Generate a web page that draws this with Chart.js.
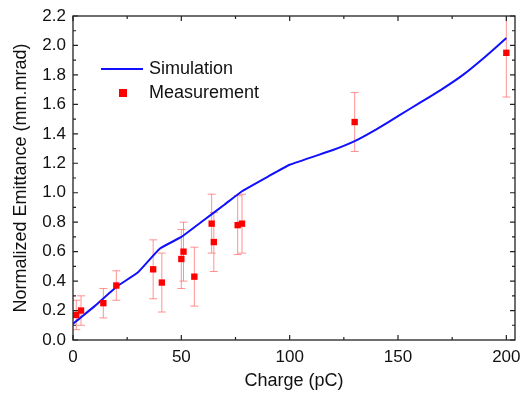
<!DOCTYPE html>
<html lang="en">
<head>
    <meta charset="UTF-8">
    <title>Normalized Emittance vs Charge</title>
    <script src="https://cdn.jsdelivr.net/npm/chart.js"></script>
    <style>
        body { margin: 0; background: #fff; }
        #wrap { width: 521px; height: 394px; }
    </style>
</head>
<body>
    <div id="wrap"><canvas id="emittance-chart" width="521" height="394"></canvas></div>

    <script>
        // simulation curve
        const simCharge = [0, 5, 10, 20, 30, 40, 50, 60, 70, 78, 90, 100, 120, 130, 140, 150, 160, 170, 180, 190, 200];
        const simEmittance = [0.11, 0.17, 0.23, 0.36, 0.46, 0.62, 0.70, 0.81, 0.92, 1.01, 1.11, 1.19, 1.29, 1.35, 1.43, 1.52, 1.61, 1.70, 1.80, 1.92, 2.05];

        // measured points with error
        const measCharge = [1.5, 3.7, 14, 20, 37, 41, 50, 51, 56, 64, 65, 76, 78, 130, 200];
        const measEmittance = [0.17, 0.20, 0.25, 0.37, 0.48, 0.39, 0.55, 0.60, 0.43, 0.79, 0.665, 0.78, 0.79, 1.48, 1.95];
        const measError = [0.1, 0.1, 0.1, 0.1, 0.2, 0.2, 0.2, 0.2, 0.2, 0.2, 0.2, 0.2, 0.2, 0.2, 0.3];

        const xTicks = [0, 50, 100, 150, 200];
        const yTicks = [0, 0.2, 0.4, 0.6, 0.8, 1.0, 1.2, 1.4, 1.6, 1.8, 2.0, 2.2];

        const FONT = "'Liberation Sans', Arial, sans-serif";

        const errorBars = {
            id: 'errorBars',
            beforeDatasetsDraw(chart) {
                const ctx = chart.ctx;
                const area = chart.chartArea;
                const xs = chart.scales.x, ys = chart.scales.y;
                ctx.save();
                ctx.beginPath();
                ctx.rect(area.left, area.top, area.right - area.left, area.bottom - area.top);
                ctx.clip();
                ctx.strokeStyle = 'rgba(255, 110, 110, 0.75)';
                ctx.lineWidth = 1;
                measCharge.forEach((c, i) => {
                    const px = xs.getPixelForValue(c);
                    const top = ys.getPixelForValue(measEmittance[i] + measError[i]);
                    const bot = ys.getPixelForValue(measEmittance[i] - measError[i]);
                    ctx.beginPath();
                    ctx.moveTo(px, top); ctx.lineTo(px, bot);
                    ctx.moveTo(px - 4, top); ctx.lineTo(px + 4, top);
                    ctx.moveTo(px - 4, bot); ctx.lineTo(px + 4, bot);
                    ctx.stroke();
                });
                ctx.restore();
            }
        };

        // box with inward ticks on all four sides
        const frame = {
            id: 'frame',
            afterDraw(chart) {
                const ctx = chart.ctx;
                const a = chart.chartArea;
                const xs = chart.scales.x, ys = chart.scales.y;
                ctx.save();
                ctx.strokeStyle = '#222';
                ctx.lineWidth = 1.3;
                ctx.strokeRect(a.left, a.top, a.right - a.left, a.bottom - a.top);
                ctx.lineWidth = 1.2;
                ctx.beginPath();
                for (let v = 0; v <= 200; v += 25) {
                    const px = xs.getPixelForValue(v);
                    const len = v % 50 === 0 ? 5 : 3;
                    ctx.moveTo(px, a.bottom); ctx.lineTo(px, a.bottom - len);
                    ctx.moveTo(px, a.top); ctx.lineTo(px, a.top + len);
                }
                for (let k = 0; k <= 22; k++) {
                    const py = ys.getPixelForValue(k / 10);
                    const len = k % 2 === 0 ? 5 : 3;
                    ctx.moveTo(a.left, py); ctx.lineTo(a.left + len, py);
                    ctx.moveTo(a.right, py); ctx.lineTo(a.right - len, py);
                }
                ctx.stroke();

                // legend
                const sim = chart.data.datasets[0], meas = chart.data.datasets[1];
                ctx.font = '18px ' + FONT;
                ctx.fillStyle = '#111';
                ctx.textBaseline = 'middle';
                ctx.strokeStyle = sim.borderColor;
                ctx.lineWidth = 2;
                ctx.beginPath();
                ctx.moveTo(101, 69); ctx.lineTo(143, 69);
                ctx.stroke();
                ctx.fillText(sim.label, 149, 69);
                ctx.fillStyle = meas.backgroundColor;
                ctx.fillRect(119, 89, 8, 8);
                ctx.fillStyle = '#111';
                ctx.fillText(meas.label, 149, 93);
                ctx.restore();
            }
        };

        new Chart(document.getElementById('emittance-chart'), {
            type: 'scatter',
            data: {
                datasets: [
                    {
                        label: 'Simulation',
                        type: 'line',
                        data: simCharge.map((c, i) => ({ x: c, y: simEmittance[i] })),
                        borderColor: '#1010ff',
                        borderWidth: 2,
                        pointRadius: 0,
                        fill: false,
                        tension: 0.1,
                        order: 2
                    },
                    {
                        label: 'Measurement',
                        data: measCharge.map((c, i) => ({ x: c, y: measEmittance[i] })),
                        backgroundColor: '#ff0000',
                        borderColor: '#ff0000',
                        pointStyle: 'rect',
                        pointRadius: 4.5,
                        borderWidth: 0,
                        order: 1
                    }
                ]
            },
            options: {
                responsive: false,
                animation: false,
                layout: { padding: { top: 16, right: 6, left: 8, bottom: 0 } },
                plugins: {
                    legend: { display: false },
                    tooltip: { enabled: false }
                },
                scales: {
                    x: {
                        type: 'linear',
                        min: 0,
                        max: 204,
                        afterFit: s => { s.height = 54; s.paddingLeft = 0; s.paddingRight = 0; },
                        afterBuildTicks: s => { s.ticks = xTicks.map(v => ({ value: v })); },
                        grid: { display: false, drawTicks: false },
                        border: { display: false },
                        ticks: {
                            padding: 7,
                            color: '#111',
                            font: { family: FONT, size: 17 }
                        },
                        title: {
                            display: true,
                            text: 'Charge (pC)',
                            color: '#111',
                            font: { family: FONT, size: 18 },
                            padding: { top: 2, bottom: 2 }
                        }
                    },
                    y: {
                        min: 0,
                        max: 2.2,
                        afterFit: s => { s.width = 65; s.paddingTop = 0; s.paddingBottom = 0; },
                        afterBuildTicks: s => { s.ticks = yTicks.map(v => ({ value: v })); },
                        grid: { display: false, drawTicks: false },
                        border: { display: false },
                        ticks: {
                            padding: 7,
                            color: '#111',
                            font: { family: FONT, size: 17 },
                            callback: v => Number(v).toFixed(1)
                        },
                        title: {
                            display: true,
                            text: 'Normalized Emittance (mm.mrad)',
                            color: '#111',
                            font: { family: FONT, size: 18 },
                            padding: { top: 2, bottom: 2 }
                        }
                    }
                }
            },
            plugins: [errorBars, frame]
        });
    </script>
</body>
</html>
